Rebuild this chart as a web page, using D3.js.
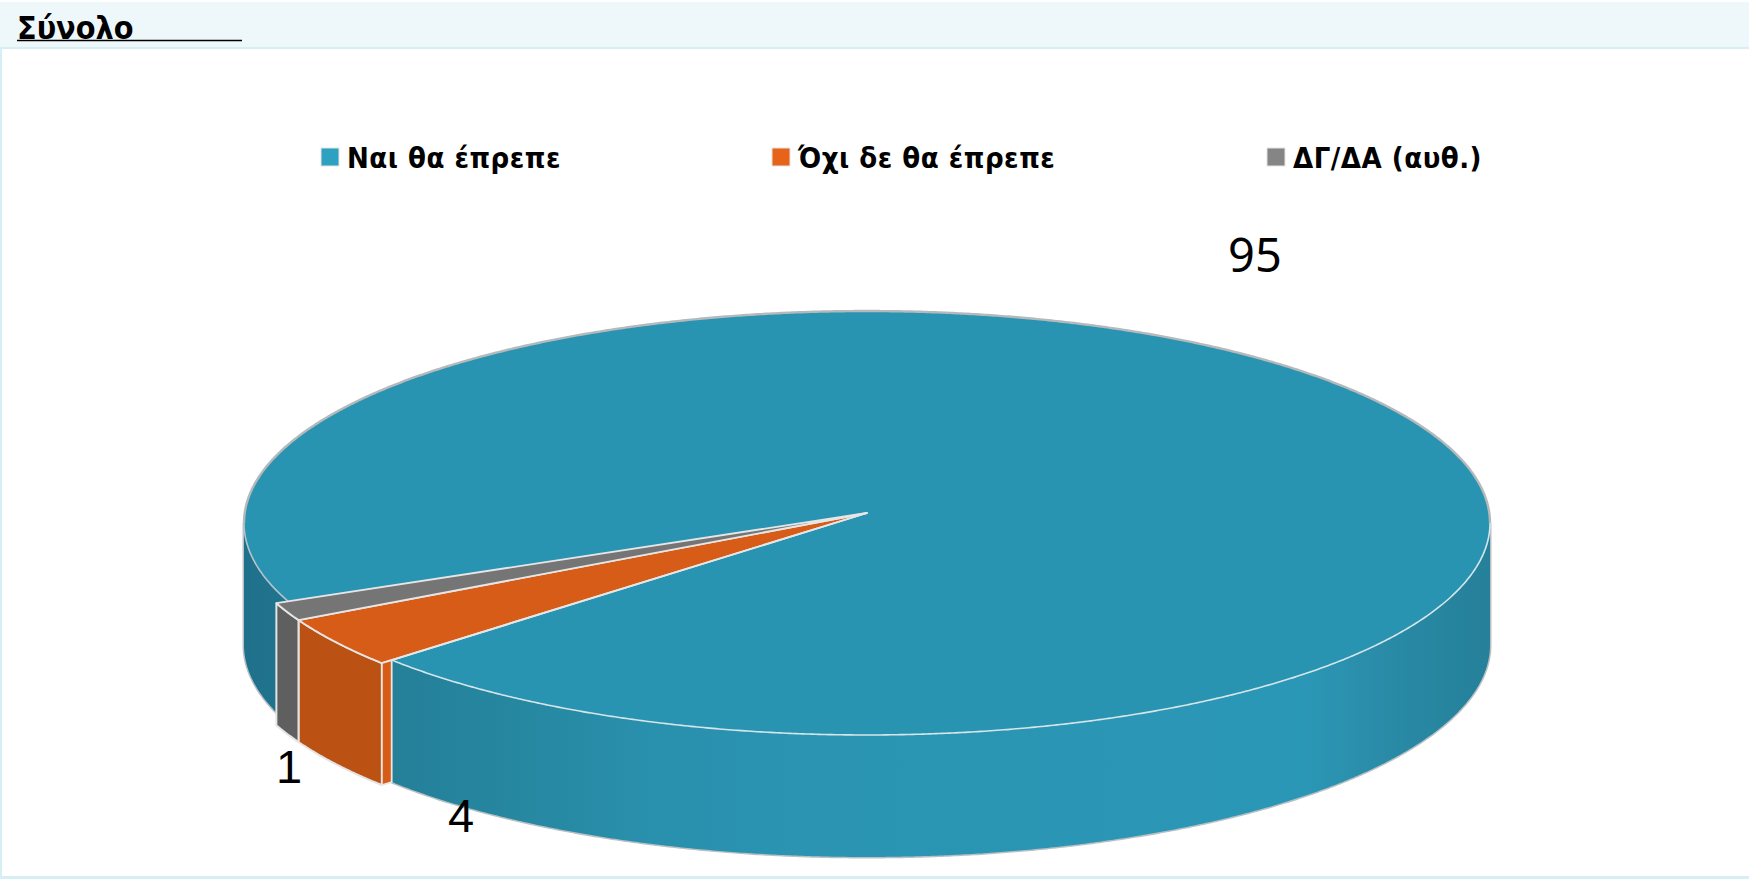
<!DOCTYPE html>
<html lang="el">

<head>
  <meta charset="utf-8">
  <title>Σύνολο</title>
  <script src="https://d3js.org/d3.v7.min.js"></script>
  <style>
    html, body { margin: 0; padding: 0; background: #fff; overflow: hidden; }
    svg { display: block; }
    text { fill: #000; }
    .legend { font: bold 29px "DejaVu Sans"; font-stretch: condensed; letter-spacing: 0.5px; }
    .title { font: bold 32px "DejaVu Sans"; font-stretch: condensed; }
    .value { font: 47px "Liberation Sans"; }
    .value.big { font: 47px "Noto Sans"; }
  </style>
</head>

<body>
  <svg width="1749" height="879"></svg>
  <script>
    const categories = ["Ναι θα έπρεπε", "Όχι δε θα έπρεπε", "ΔΓ/ΔΑ (αυθ.)"];
    // labels show 95, 4, 1; the unrounded shares are estimated from the wedge widths
    const values = [94.97, 3.7, 1.33];
    const title = "Σύνολο";

    const topColors = ["#2993b2", "#d75c17", "#757575"];
    const sideColors = ["url(#tealSide)", "#bb5213", "#5f5f5f"];
    const legendColors = ["#2ca1c0", "#e8631a", "#858585"];

    const width = 1749, height = 879;
    const cx = 867, apexY = 513;
    const rx = 622.3, ry = 211.5, tilt = 0.0472; // tilt = perspective, near edge looks larger
    const depth = 122, pull = 1.02;

    const svg = d3.select("svg");

    // background panels
    svg.append("rect").attr("width", width).attr("height", height).attr("fill", "#fff");
    svg.append("rect").attr("y", 2).attr("width", width).attr("height", 45).attr("fill", "#eef8fb");
    svg.append("rect").attr("y", 47).attr("width", width).attr("height", 2).attr("fill", "#d6eff5");
    svg.append("rect").attr("y", 49).attr("width", 2).attr("height", height - 49).attr("fill", "#d6eff5");
    svg.append("rect").attr("y", 876).attr("width", width).attr("height", 3).attr("fill", "#d6eff5");

    svg.append("text").attr("class", "title").attr("x", 17).attr("y", 38.5).text(title);
    svg.append("line").attr("x1", 17).attr("x2", 242).attr("y1", 40.5).attr("y2", 40.5)
      .attr("stroke", "#000").attr("stroke-width", 1.6);

    // side shading
    const grad = svg.append("defs").append("linearGradient").attr("id", "tealSide")
      .attr("gradientUnits", "userSpaceOnUse").attr("x1", cx - rx).attr("x2", cx + rx).attr("y1", 0).attr("y2", 0);
    [[0, "#1f708b"], [0.125, "#25809a"], [0.205, "#26869f"], [0.326, "#2990ad"], [0.446, "#2a94b2"], [0.85, "#2b97b6"], [0.91, "#2a8ca8"], [0.968, "#26849e"], [1, "#26809a"]]
      .forEach(s => grad.append("stop").attr("offset", s[0]).attr("stop-color", s[1]));

    // pie angles: d3.pie runs clockwise from 12 o'clock, the small slices end at 155.8 deg from 3 o'clock
    const startAngle = (155.8 + 90) * Math.PI / 180;
    const slices = d3.pie().sort(null).startAngle(startAngle).endAngle(startAngle + 2 * Math.PI)(values);

    const rimX = d3.scaleLinear().domain([-1, 1]).range([cx - rx, cx + rx]);
    const rimY = d3.scaleLinear().domain([-1, 1]).range([apexY - ry, apexY + ry]);
    const rim = (a, r, dy = 0) => {
      const t = a - Math.PI / 2;
      const w = 1 - tilt * r * Math.sin(t);
      return [rimX(r * Math.cos(t) / w), rimY(r * Math.sin(t) / w) + dy];
    };
    const arcPoints = (a0, a1, r, dy = 0) => {
      const n = Math.max(2, Math.ceil(Math.abs(a1 - a0) / 0.005));
      return d3.range(n + 1).map(i => rim(a0 + (a1 - a0) * i / n, r, dy));
    };
    const line = d3.line();
    const wall = (a0, a1, r) => line(arcPoints(a0, a1, r).concat(arcPoints(a1, a0, r, depth))) + "Z";

    // widest points of the projected rim, the wall shows between them
    const front0 = Math.PI / 2 + Math.asin(tilt), front1 = 3 * Math.PI / 2 - Math.asin(tilt);
    const teal = slices[0];
    const tealEnd = teal.endAngle - 2 * Math.PI;

    // outline of the whole body behind everything
    const outline = arcPoints(front0, front1, 1).concat(arcPoints(front1, front0, 1, depth));
    svg.append("path").attr("d", line(outline) + "Z").attr("fill", "none").attr("stroke", "#b8c0c4").attr("stroke-width", 3);

    // teal walls either side of the small slices
    svg.append("path").attr("d", wall(front0, tealEnd, 1)).attr("fill", sideColors[0]);
    svg.append("path").attr("d", wall(teal.startAngle, front1, 1)).attr("fill", sideColors[0]);

    // teal top
    const tealTop = [[cx, apexY]].concat(arcPoints(teal.startAngle, teal.endAngle, 1));
    svg.append("path").attr("d", line(tealTop) + "Z").attr("fill", topColors[0]);
    // back rim in grey, front rim pale
    svg.append("path").attr("d", line(arcPoints(front1, front0 + 2 * Math.PI, 1)))
      .attr("fill", "none").attr("stroke", "#b4b9bb").attr("stroke-width", 2.4);
    svg.append("path").attr("d", line(arcPoints(tealEnd, front0, 1)))
      .attr("fill", "none").attr("stroke", "#d5e6ea").attr("stroke-width", 1.6);
    svg.append("path").attr("d", line(arcPoints(teal.startAngle, front1, 1)))
      .attr("fill", "none").attr("stroke", "#b4c4ca").attr("stroke-width", 1.6);

    // small slices, drawn a little outside the rim
    slices.slice(1).forEach((d, k) => {
      const i = k + 1;
      const top = [[cx, apexY]].concat(arcPoints(d.startAngle, d.endAngle, pull));
      svg.append("path").attr("d", wall(d.startAngle, d.endAngle, pull))
        .attr("fill", sideColors[i]).attr("stroke", "#e4e4e4").attr("stroke-width", 2).attr("stroke-linejoin", "round");
      svg.append("path").attr("d", line(top) + "Z")
        .attr("fill", topColors[i]).attr("stroke", "#e6e6e6").attr("stroke-width", 1.8).attr("stroke-linejoin", "round");
    });

    // cut face of the orange slice next to the teal wall
    const cut = [rim(tealEnd, pull), rim(tealEnd, 1), rim(tealEnd, 1, depth), rim(tealEnd, pull, depth)];
    svg.append("path").attr("d", line(cut) + "Z").attr("fill", topColors[1])
      .attr("stroke", "#e6e6e6").attr("stroke-width", 1.8);
    svg.append("path").attr("d", line([[cx, apexY], rim(tealEnd, 1)]))
      .attr("stroke", "#e6e6e6").attr("stroke-width", 1.8);

    // legend
    const legendX = [321, 772, 1267];
    const legend = svg.selectAll("g.item").data(categories).join("g").attr("class", "item")
      .attr("transform", (d, i) => `translate(${legendX[i]},148)`);
    legend.append("rect").attr("width", 18).attr("height", 18)
      .attr("fill", (d, i) => legendColors[i]).attr("stroke", "#e4e4e4").attr("stroke-width", 1);
    legend.append("text").attr("class", "legend").attr("x", 26).attr("y", 20).text(d => d);

    // value labels, placed by hand in the original
    const labelX = [1255, 461, 289], labelY = [272, 832, 783];
    const fmt = d3.format(".0f");
    svg.selectAll("text.value").data(values).join("text")
      .attr("class", (d, i) => i === 0 ? "value big" : "value")
      .attr("text-anchor", "middle")
      .attr("x", (d, i) => labelX[i]).attr("y", (d, i) => labelY[i]).text(d => fmt(d));
  </script>
</body>

</html>
